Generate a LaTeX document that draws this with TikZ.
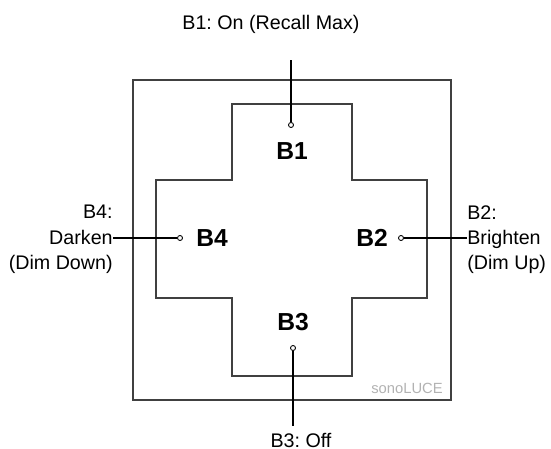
\documentclass[tikz,border=0pt]{standalone}
\usepackage{fontspec}
\setmainfont{Liberation Sans}
\usetikzlibrary{positioning}
\frenchspacing

\begin{document}
\begin{tikzpicture}[
  x=0.02cm, y=-0.02cm,
  key/.style={font=\fontsize{14}{16}\selectfont\bfseries, inner sep=0pt},
  dot/.style={circle, draw, fill=white, inner sep=0pt, minimum size=5*0.02cm, line width=0.5pt},
  desc/.style={font=\fontsize{11.2}{14.4}\selectfont, inner sep=0pt},
  wire/.style={line width=0.6pt},
]
\useasboundingbox (0,0) rectangle (551,449);

% Housing and cross
\draw[line width=0.8pt, black!75] (133,80) rectangle (451,400);
\draw[line width=0.8pt, black!75] (232,104) -- (352,104) -- (352,180) -- (427,180) -- (427,298)
  -- (352,298) -- (352,376) -- (232,376) -- (232,298) -- (156,298) -- (156,180) -- (232,180) -- cycle;
\node[font=\fontsize{8.4}{10}\selectfont, text=black!30, inner sep=0pt] (brand) at (407,388) {sonoLUCE};

% Button keys
\node[key] (b1) at (292,151) {B1};
\node[key] (b2) at (372,238) {B2};
\node[key] (b3) at (293,322) {B3};
\node[key] (b4) at (212,238) {B4};

% Contact points
\node[dot] (d1) at (291,125) {};
\node[dot] (d2) at (401,238) {};
\node[dot] (d3) at (293,348) {};
\node[dot] (d4) at (180,238) {};

% Line ends
\coordinate (e1) at (291,60);
\coordinate (e2) at (467,238);
\coordinate (e3) at (293,426);
\coordinate (e4) at (113,238);

% Descriptions
\node[desc] (l1) at (271,24) {B1: On (Recall Max)};
\node[desc, anchor=west, align=left] (l2) at ([yshift=-1.5*0.02cm]e2) {B2:\\Brighten\\(Dim Up)};
\node[desc] (l3) at (301,440) {B3: Off};
\node[desc, anchor=east, align=right] (l4) at ([yshift=-1.5*0.02cm]e4) {B4:\\Darken\\(Dim Down)};

% Leads
\draw[wire] (d1) -- (e1);
\draw[wire] (d2) -- (e2);
\draw[wire] (d3) -- (e3);
\draw[wire] (d4) -- (e4);
\end{tikzpicture}
\end{document}
